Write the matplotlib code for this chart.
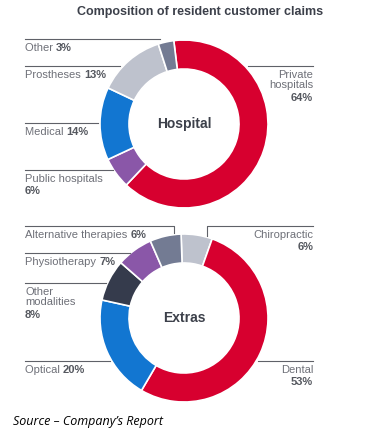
import matplotlib.pyplot as plt
from matplotlib import font_manager

W, H = 368, 436

title = "Composition of resident customer claims"

# hospital donut, clockwise from the top
hosp_names = ["Private hospitals", "Public hospitals", "Medical", "Prostheses", "Other"]
hosp_share = [64, 6, 14, 13, 3]
hosp_colors = ["#d7002f", "#8a57a8", "#1276d1", "#bec2cd", "#737b93"]

# extras donut, clockwise from the top
extra_names = ["Chiropractic", "Dental", "Optical", "Other modalities",
               "Physiotherapy", "Alternative therapies"]
extra_share = [6, 53, 20, 8, 7, 6]
extra_colors = ["#bec2cd", "#d7002f", "#1276d1", "#353b4c", "#8a57a8", "#737b93"]

names = set(f.name for f in font_manager.fontManager.ttflist)
fam = "Liberation Sans Narrow" if "Liberation Sans Narrow" in names else "Liberation Sans"
plt.rcParams['font.family'] = [fam, 'DejaVu Sans']

LBL = "#6e7078"
BLD = "#55585f"
LINE = "#5f6168"
FS = 8

fig = plt.figure(figsize=(W / 100, H / 100), dpi=100)
ax = fig.add_axes([0, 0, 1, 1])
ax.axis('off')


def Y(y):
    # pixel row -> data y
    return H - y


def donut(vals, cols, cx, cy, start):
    ax.pie(vals, colors=cols, center=(cx, Y(cy)), radius=84,
           startangle=start, counterclock=False,
           wedgeprops=dict(width=29, edgecolor='white', linewidth=1.2))


def hline(x0, x1, y):
    ax.plot([x0, x1], [Y(y), Y(y)], color=LINE, lw=0.8)


def label(x, y, name, pct):
    t = ax.text(x, Y(y), name + " ", color=LBL, fontsize=FS, va='top', ha='left')
    ax.annotate(pct, xy=(1, 0), xycoords=t, va='bottom', ha='left',
                color=BLD, fontsize=FS, fontweight='bold')


def label2(x, y, name, pct, ha='left'):
    ax.text(x, Y(y), name, color=LBL, fontsize=FS, va='top', ha=ha,
            linespacing=1.0)
    n = name.count("\n") + 1
    ax.text(x, Y(y + n * 11.6), pct, color=BLD, fontsize=FS, va='top', ha=ha,
            fontweight='bold')


ax.text(200, Y(12), title, ha='center', va='center', fontsize=9,
        fontweight='bold', color="#3c404a")

# Hospital
donut(hosp_share, hosp_colors, 184, 124, 97)
ax.text(184, Y(124), "Hospital", ha='center', va='center', fontsize=10,
        fontweight='bold', color="#3c404a")

hline(25, 160, 39)
label(25, 43, hosp_names[4], f"{hosp_share[4]}%")
hline(25, 120, 66)
label(25, 70, hosp_names[3], f"{hosp_share[3]}%")
hline(25, 98, 123)
label(25, 127, hosp_names[2], f"{hosp_share[2]}%")
hline(25, 113, 170)
label2(25, 174, hosp_names[1], f"{hosp_share[1]}%")
hline(248, 313, 66)
label2(313, 70, "Private\nhospitals", f"{hosp_share[0]}%", ha='right')

# Extras
donut(extra_share, extra_colors, 184, 318, 92)
ax.text(184, Y(318), "Extras", ha='center', va='center', fontsize=10,
        fontweight='bold', color="#3c404a")

ax.plot([25, 174, 174], [Y(226), Y(226), Y(233)], color=LINE, lw=0.8)
label(25, 230, extra_names[5], f"{extra_share[5]}%")
ax.plot([207, 207, 313], [Y(236), Y(226), Y(226)], color=LINE, lw=0.8)
label2(313, 230, extra_names[0], f"{extra_share[0]}%", ha='right')
hline(25, 130, 253)
label(25, 257, extra_names[4], f"{extra_share[4]}%")
hline(25, 106, 283)
label2(25, 287, "Other\nmodalities", f"{extra_share[3]}%")
hline(25, 110, 361)
label(25, 365, extra_names[2], f"{extra_share[2]}%")
hline(258, 313, 361)
label2(313, 365, extra_names[1], f"{extra_share[1]}%", ha='right')

ax.text(13, Y(422), "Source \u2013 Company\u2019s Report", ha='left', va='center',
        fontsize=9, style='italic', color='black', family=['Open Sans', 'DejaVu Sans'])

ax.set_xlim(0, W)
ax.set_ylim(0, H)
ax.set_aspect('equal')

fig.savefig("out.png", dpi=100)
